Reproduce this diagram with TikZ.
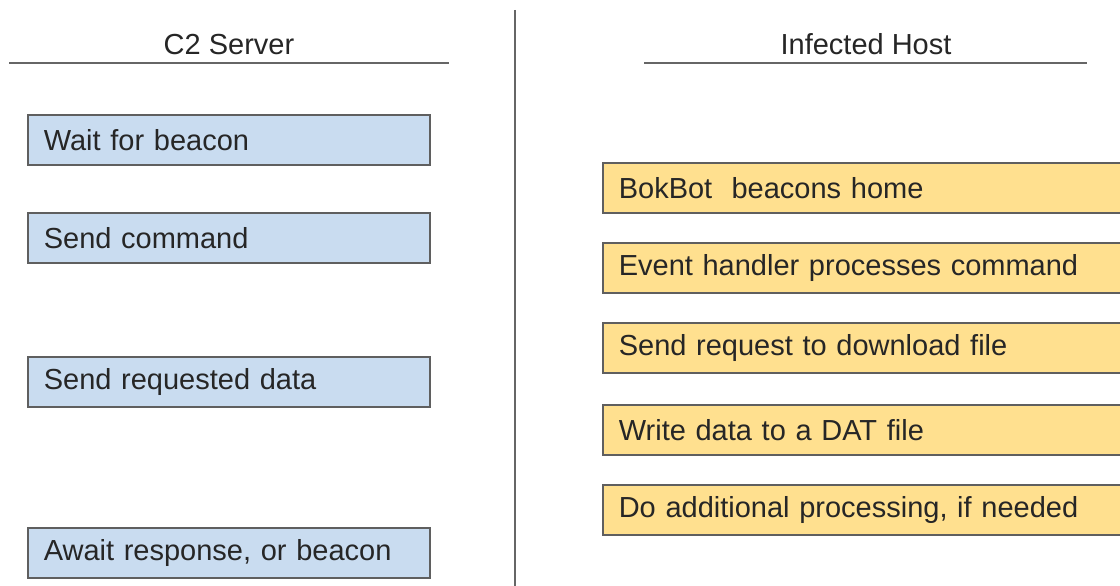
\documentclass[tikz,border=0pt]{standalone}
\usepackage{fontspec}
\setmainfont{Liberation Sans}
\definecolor{bluefill}{HTML}{C9DCF0}
\definecolor{yellowfill}{HTML}{FFE08F}
\definecolor{boxdraw}{HTML}{5F5F5F}
\definecolor{txt}{HTML}{262626}
\definecolor{rule}{HTML}{666666}
\tikzset{
  basebox/.style={draw=boxdraw, line width=1.6pt, anchor=north west, minimum height=50pt,
    inner xsep=16pt, inner ysep=0pt, align=left, text=txt,
    font=\fontsize{29}{33}\selectfont},
  bluebox/.style={basebox, fill=bluefill, text width=370pt},
  yellowbox/.style={basebox, fill=yellowfill, text width=520pt},
  header/.style={text=txt, font=\fontsize{29}{33}\selectfont, inner sep=0pt, anchor=base},
  hrule/.style={draw=rule, line width=2pt},
}
\begin{document}
\begin{tikzpicture}[x=1pt, y=-1pt]
\useasboundingbox (0,0) rectangle (1120,586);
\clip (0,0) rectangle (1120,586);
% headers
\node[header] (hl) at (229,55) {C2 Server};
\node[header] (hr) at (866,55) {Infected Host};
\coordinate (hla) at (9,63); \coordinate (hlb) at (449,63);
\coordinate (hra) at (644,63); \coordinate (hrb) at (1087,63);
\draw[hrule] (hla) -- (hlb);
\draw[hrule] (hra) -- (hrb);
% divider
\coordinate (da) at (515,10); \coordinate (db) at (515,590);
\draw[draw=rule, line width=2pt] (da) -- (db);
% C2 server boxes
\node[bluebox] (c1) at (27,114) {Wait for beacon};
\node[bluebox] (c2) at (27,212) {Send command};
\node[bluebox] (c3) at (27,356) {Send requested data};
\node[bluebox] (c4) at (27,527) {Await response, or beacon};
% infected host boxes
\node[yellowbox] (i1) at (602,162) {BokBot\ \ beacons home};
\node[yellowbox] (i2) at (602,242) {Event handler processes command};
\node[yellowbox] (i3) at (602,322) {Send request to download file};
\node[yellowbox] (i4) at (602,404) {Write data to a DAT file};
\node[yellowbox] (i5) at (602,484) {Do additional processing, if needed};
\end{tikzpicture}
\end{document}
